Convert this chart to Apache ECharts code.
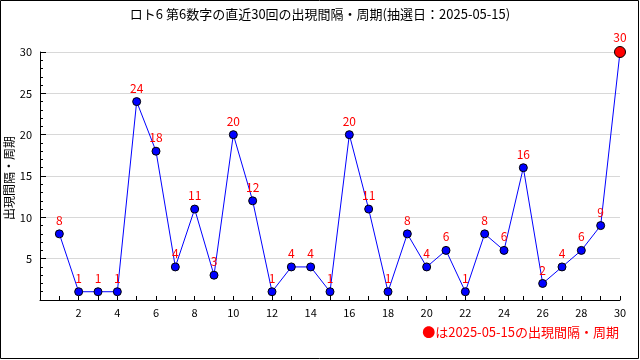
<!DOCTYPE html>
<html><head><meta charset="utf-8">
<script src="https://cdn.jsdelivr.net/npm/echarts@6/dist/echarts.min.js"></script>
<style>html,body{margin:0;padding:0;background:#fff}#c{width:640px;height:360px}</style>
</head><body><div id="c"></div>
<script>
const titleText = 'ロト6 第6数字の直近30回の出現間隔・周期(抽選日：2025-05-15)';
const yAxisName = '出現間隔・周期';
const legendText = '●は2025-05-15の出現間隔・周期';
const draws = [1,2,3,4,5,6,7,8,9,10,11,12,13,14,15,16,17,18,19,20,21,22,23,24,25,26,27,28,29,30];
const gaps = [8,1,1,1,24,18,4,11,3,20,12,1,4,4,1,20,11,1,8,4,6,1,8,6,16,2,4,6,9,30];
const FONT = '"Noto Sans CJK JP", sans-serif';

const data = draws.map((d, i) => {
  const last = i === draws.length - 1;
  return {
    value: [d, gaps[i]],
    symbolSize: last ? 11 : 8,
    itemStyle: { color: last ? '#ff0000' : '#0000ff', borderColor: '#000', borderWidth: 1 }
  };
});

const chart = echarts.init(document.getElementById('c'), null, { renderer: 'canvas' });
chart.setOption({
  animation: false,
  backgroundColor: '#fff',
  textStyle: { fontFamily: FONT },
  title: {
    text: titleText, left: 'center', top: 3,
    textStyle: { fontSize: 13, fontWeight: 'normal', color: '#000', fontFamily: FONT }
  },
  grid: { left: 40, right: 20, top: 52, bottom: 60, containLabel: false, outerBoundsMode: 'none' },
  xAxis: {
    type: 'value', min: 0, max: 30, interval: 1,
    axisLine: { show: true, lineStyle: { color: '#000', width: 1 } },
    axisTick: { show: true, inside: true, length: 4, lineStyle: { color: '#000' } },
    axisLabel: {
      color: '#000', fontSize: 11, margin: 7, fontFamily: FONT,
      formatter: v => (v > 0 && v % 2 === 0) ? String(v) : ''
    },
    splitLine: { show: false }
  },
  yAxis: {
    type: 'value', min: 0, max: 30, interval: 5,
    axisLine: { show: true, lineStyle: { color: '#000', width: 1 } },
    axisTick: { show: true, inside: true, length: 6, lineStyle: { color: '#000' } },
    minorTick: { show: true, splitNumber: 5, length: 3, lineStyle: { color: '#000' } },
    axisLabel: {
      color: '#000', fontSize: 11, margin: 8, fontFamily: FONT,
      formatter: v => v === 0 ? '' : String(v)
    },
    splitLine: { show: true, lineStyle: { color: '#d8d8d8', width: 1 } }
  },
  series: [{
    type: 'line',
    data: data,
    symbol: 'circle',
    lineStyle: { color: '#0000ff', width: 1 },
    label: {
      show: true, position: 'top', distance: 3,
      color: '#ff0000', fontSize: 12, fontFamily: FONT,
      formatter: p => String(p.value[1])
    },
    z: 3
  }],
  graphic: [
    {
      type: 'text', x: 9, y: 178, rotation: Math.PI / 2,
      style: { text: yAxisName, fill: '#000', font: '12px ' + FONT, align: 'center', verticalAlign: 'middle' }
    },
    {
      type: 'text', right: 21, top: 326,
      style: { text: legendText, fill: '#ff0000', font: '13px ' + FONT }
    },
    {
      type: 'rect', shape: { x: 0.5, y: 0.5, width: 638, height: 358 },
      style: { fill: 'none', stroke: '#000', lineWidth: 1 }, silent: true
    }
  ]
});
</script></body></html>
